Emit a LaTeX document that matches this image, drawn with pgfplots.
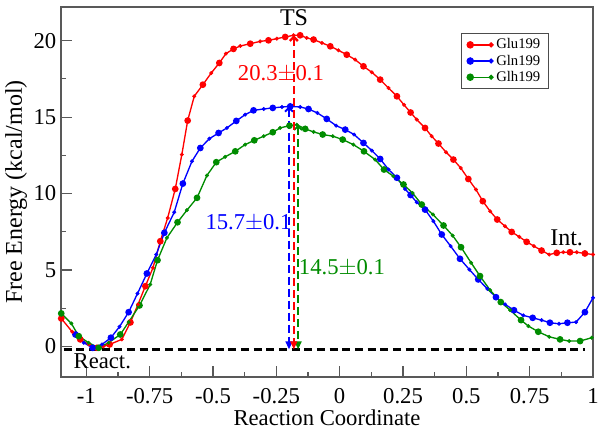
\documentclass[border=0pt]{standalone}
\usepackage{fontspec}
\setmainfont{Liberation Serif}
\usepackage{pgfplots}
\pgfplotsset{compat=1.18}
\usepackage{pgfplotstable}
\usetikzlibrary{arrows.meta}
\definecolor{cRed}{RGB}{255,0,0}
\definecolor{cBlue}{RGB}{0,0,255}
\definecolor{cGreen}{RGB}{0,140,0}

\pgfplotstableread{
x y
-1.099 1.83
-1.056 0.96
-1.024 0.46
-0.990 0.13
-0.958 -0.09
-0.933 0.00
-0.908 0.13
-0.860 0.46
-0.826 1.57
-0.796 2.75
-0.767 3.94
-0.737 5.14
-0.708 6.88
-0.679 8.40
-0.649 10.30
-0.623 12.55
-0.600 14.77
-0.574 16.36
-0.540 17.12
-0.507 17.88
-0.475 18.54
-0.449 19.15
-0.419 19.46
-0.392 19.65
-0.353 19.80
-0.314 19.95
-0.281 20.02
-0.248 20.13
-0.215 20.24
-0.182 20.35
-0.156 20.35
-0.130 20.18
-0.103 20.07
-0.070 19.85
-0.037 19.63
-0.005 19.37
0.028 19.08
0.061 18.76
0.094 18.32
0.127 17.93
0.160 17.45
0.193 16.90
0.226 16.36
0.254 15.80
0.280 15.30
0.304 14.84
0.337 14.29
0.363 13.75
0.390 13.27
0.420 12.70
0.449 12.22
0.478 11.67
0.508 10.95
0.538 10.26
0.565 9.50
0.594 8.84
0.622 8.30
0.653 7.86
0.679 7.49
0.709 7.17
0.738 6.84
0.767 6.56
0.797 6.27
0.827 6.01
0.857 6.12
0.883 6.16
0.909 6.16
0.936 6.16
0.968 6.08
1.000 6.01
}\glu

\pgfplotstableread{
x y
-1.043 0.78
-1.010 0.24
-0.975 -0.09
-0.938 0.13
-0.903 0.57
-0.869 1.29
-0.833 2.24
-0.798 3.46
-0.761 4.77
-0.724 6.01
-0.692 7.43
-0.653 8.78
-0.619 10.65
-0.583 12.11
-0.550 12.98
-0.514 13.59
-0.478 13.96
-0.445 14.29
-0.408 14.75
-0.373 15.16
-0.340 15.44
-0.300 15.53
-0.264 15.60
-0.228 15.66
-0.195 15.70
-0.156 15.66
-0.123 15.53
-0.088 15.27
-0.051 14.88
-0.014 14.44
0.022 14.18
0.057 13.86
0.094 13.31
0.127 12.81
0.160 12.26
0.193 11.57
0.226 11.03
0.258 10.30
0.280 9.90
0.304 9.43
0.337 8.95
0.370 8.19
0.403 7.32
0.438 6.56
0.475 5.73
0.512 5.03
0.547 4.38
0.583 3.77
0.617 3.22
0.653 2.75
0.688 2.37
0.725 2.03
0.762 1.87
0.797 1.72
0.830 1.55
0.866 1.48
0.899 1.55
0.933 1.59
0.968 2.24
1.000 3.18
}\gln

\pgfplotstableread{
x y
-1.099 2.16
-1.059 1.50
-1.030 0.67
-0.991 0.24
-0.951 -0.09
-0.912 0.24
-0.866 0.78
-0.833 1.59
-0.790 2.68
-0.748 4.05
-0.719 5.64
-0.682 7.10
-0.640 8.12
-0.603 8.91
-0.563 9.72
-0.524 11.18
-0.487 12.05
-0.452 12.40
-0.412 12.76
-0.373 13.20
-0.337 13.48
-0.300 13.75
-0.264 14.01
-0.235 14.29
-0.198 14.44
-0.169 14.50
-0.136 14.23
-0.103 14.03
-0.067 13.86
-0.027 13.75
0.012 13.53
0.054 13.20
0.096 12.76
0.140 12.22
0.175 11.57
0.212 11.13
0.252 10.59
0.288 10.03
0.324 9.28
0.368 8.63
0.410 7.91
0.446 7.25
0.479 6.49
0.519 5.47
0.554 4.60
0.594 3.68
0.636 2.90
0.673 2.37
0.716 1.72
0.745 1.33
0.784 0.96
0.827 0.63
0.870 0.46
0.906 0.35
0.949 0.35
0.995 0.57
}\glh

\begin{document}
\begin{tikzpicture}
\useasboundingbox (-45.75pt,-39.75pt) rectangle (407.25pt,282.75pt);
\begin{axis}[
  scale only axis, width=399pt, height=277.5pt,
  xmin=-1.1, xmax=1, ymin=-2, ymax=22.2,
  xtick={-1,-0.75,-0.5,-0.25,0,0.25,0.5,0.75,1},
  xticklabels={-1,-0.75,-0.5,-0.25,0,0.25,0.5,0.75,1},
  ytick={0,5,10,15,20},
  yticklabels={0,5,10,15,20},
  minor x tick num=1, minor y tick num=1,
  tick align=inside, xtick pos=bottom, ytick pos=left,
  major tick length=8pt, minor tick length=4pt,
  axis line style={black!65, line width=0.9pt},
  tick style={black!65, line width=0.8pt},
  tick label style={font=\fontsize{17}{20}\selectfont},
  label style={font=\fontsize{18}{21}\selectfont},
  xticklabel style={inner ysep=0pt, yshift=-8.5pt},
  xlabel={Reaction Coordinate}, ylabel={Free Energy (kcal/mol)},
  xlabel style={inner ysep=0pt, yshift=-4.5pt, font=\fontsize{17}{20}\selectfont},
  ylabel style={yshift=-2pt},
  legend style={at={(0.917,0.93)}, anchor=north east,
    font=\fontsize{11}{12.5}\selectfont, draw=black!70, line width=0.8pt,
    inner xsep=4pt, inner ysep=2pt, row sep=-1pt},
  legend cell align=left,
  legend image code/.code={
    \draw[#1, mark=none, line width=1pt] (0cm,0cm) -- (0.55cm,0cm);
    \fill[#1, mark=none] (0cm,0cm) circle (2.3pt);
    \fill[#1, mark=none] (0.55cm,0cm) circle (1.4pt);
  },
]
\addplot[cRed, line width=1pt, mark=*, mark size=2pt, mark repeat=2] table[x=x,y=y] {\glu};
\addlegendentry{Glu199}
\addplot[cBlue, line width=1pt, mark=*, mark size=2pt, mark repeat=2] table[x=x,y=y] {\gln};
\addlegendentry{Gln199}
\addplot[cGreen, line width=1pt, mark=*, mark size=2pt, mark repeat=2] table[x=x,y=y] {\glh};
\addlegendentry{Glh199}
\addplot[cRed, only marks, mark=*, mark size=1.3pt, mark phase=2, mark repeat=2, forget plot] table[x=x,y=y] {\glu};
\addplot[cBlue, only marks, mark=*, mark size=1.3pt, mark phase=2, mark repeat=2, forget plot] table[x=x,y=y] {\gln};
\addplot[cGreen, only marks, mark=*, mark size=1.3pt, mark phase=2, mark repeat=2, forget plot] table[x=x,y=y] {\glh};

% reference dashed line
\addplot[black, line width=1.6pt, dash pattern=on 6pt off 3.5pt, mark=none, forget plot] coordinates {(-1.09,-0.2) (0.97,-0.2)};

% vertical barrier arrows
\addplot[color=cBlue, line width=1.4pt, dash pattern=on 6pt off 3pt, mark=none, forget plot, {Straight Barb[length=3pt]}-{Triangle[length=6pt,width=5pt]}] coordinates {(-0.2,15.7) (-0.2,-0.2)};
\addplot[color=cGreen, line width=1.4pt, dash pattern=on 6pt off 3pt, mark=none, forget plot, {Straight Barb[length=3pt]}-{Triangle[length=6pt,width=5pt]}] coordinates {(-0.164,14.5) (-0.164,-0.2)};
\addplot[color=cRed, line width=1.8pt, dash pattern=on 6pt off 3pt, mark=none, forget plot, {Straight Barb[length=3pt]}-{Triangle[length=6pt,width=5pt]}] coordinates {(-0.181,20.35) (-0.181,-0.2)};

\node[font=\fontsize{18}{20}\selectfont] at (axis cs:-0.18,21.5) {TS};
\node[cRed, font=\fontsize{17}{20}\selectfont] at (axis cs:-0.232,17.84) {20.3$\pm$0.1};
\node[cBlue, font=\fontsize{17}{20}\selectfont] at (axis cs:-0.36,8.08) {15.7$\pm$0.1};
\node[cGreen, font=\fontsize{17}{20}\selectfont] at (axis cs:0.009,5.14) {14.5$\pm$0.1};
\node[font=\fontsize{17}{20}\selectfont] at (axis cs:-0.937,-0.95) {React.};
\node[font=\fontsize{18}{20}\selectfont] at (axis cs:0.896,7.1) {Int.};
\end{axis}
\end{tikzpicture}
\end{document}
